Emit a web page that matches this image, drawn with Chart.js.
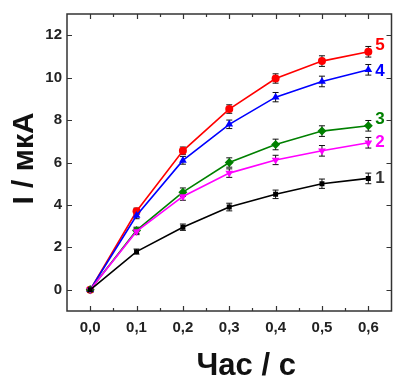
<!DOCTYPE html>
<html>
<head>
<meta charset="utf-8">
<script src="https://cdn.jsdelivr.net/npm/chart.js@4/dist/chart.umd.min.js"></script>
<style>
  html, body { margin: 0; padding: 0; background: #fff; }
  #wrap { width: 396px; height: 376px; }
</style>
</head>
<body>
<div id="wrap"><canvas id="chart"></canvas></div>
<script>
const times = [0, 0.1, 0.2, 0.3, 0.4, 0.5, 0.6];
const curve1 = [0, 1.8, 2.95, 3.9, 4.5, 5.0, 5.25];
const curve2 = [0, 2.75, 4.4, 5.5, 6.12, 6.55, 6.93];
const curve3 = [0, 2.8, 4.6, 6.0, 6.85, 7.48, 7.73];
const curve4 = [0, 3.5, 6.1, 7.8, 9.08, 9.82, 10.37];
const curve5 = [0, 3.7, 6.55, 8.52, 9.96, 10.78, 11.22];
const err1 = [0.1, 0.12, 0.15, 0.18, 0.2, 0.22, 0.25];
const err2 = [0.1, 0.15, 0.18, 0.2, 0.22, 0.25, 0.25];
const err3 = [0.1, 0.15, 0.2, 0.22, 0.25, 0.25, 0.25];
const err4 = [0.1, 0.15, 0.18, 0.2, 0.22, 0.25, 0.25];
const err5 = [0.1, 0.15, 0.18, 0.2, 0.22, 0.25, 0.25];
const curveNames = ["1", "2", "3", "4", "5"];
const xTicks = [0, 0.1, 0.2, 0.3, 0.4, 0.5, 0.6];
const yTicks = [0, 2, 4, 6, 8, 10, 12];
const xTitle = "Час / с";
const yTitle = "I / мкА";

const FONT = "'Liberation Sans', Arial, sans-serif";
const colors = ["#000000", "#ff00ff", "#008000", "#0000ff", "#ff0000"];
const labelColors = ["#333333", "#ff00ff", "#008000", "#0000ff", "#ff0000"];
const shapes = ["rect", "triangle", "rectRot", "triangle", "circle"];
const rotations = [0, 180, 0, 0, 0];
const radii = [3.5, 4.5, 4.5, 4.5, 4];
const labelShift = [0, 0, -6, 2, -6];

const series = [curve1, curve2, curve3, curve4, curve5];
const errors = [err1, err2, err3, err4, err5];

const datasets = series.map((vals, i) => ({
  label: curveNames[i],
  data: vals.map((v, j) => ({ x: times[j], y: v })),
  borderColor: colors[i],
  backgroundColor: colors[i],
  borderWidth: 1.6,
  pointStyle: shapes[i],
  rotation: rotations[i],
  pointRadius: radii[i],
  pointBorderWidth: 0,
  errors: errors[i]
}));

// error bars, inward frame ticks, titles and curve numbers
const extras = {
  id: "extras",
  beforeDatasetsDraw(chart) {
    const ctx = chart.ctx;
    const xs = chart.scales.x, ys = chart.scales.y;
    ctx.save();
    ctx.lineWidth = 1;
    chart.data.datasets.forEach((ds, i) => {
      ctx.strokeStyle = "#111";
      ds.data.forEach((p, j) => {
        const e = ds.errors[j];
        const px = xs.getPixelForValue(p.x);
        const top = ys.getPixelForValue(p.y + e);
        const bot = ys.getPixelForValue(p.y - e);
        ctx.beginPath();
        ctx.moveTo(px, top); ctx.lineTo(px, bot);
        ctx.moveTo(px - 3, top); ctx.lineTo(px + 3, top);
        ctx.moveTo(px - 3, bot); ctx.lineTo(px + 3, bot);
        ctx.stroke();
      });
    });
    ctx.restore();
  },
  afterDraw(chart) {
    const ctx = chart.ctx;
    const a = chart.chartArea;
    const xs = chart.scales.x, ys = chart.scales.y;
    ctx.save();
    ctx.strokeStyle = "#333";
    ctx.lineWidth = 1.5;
    ctx.strokeRect(a.left, a.top, a.right - a.left, a.bottom - a.top);
    ctx.lineWidth = 1.2;
    ctx.beginPath();
    for (let v = 0; v <= 0.6001; v += 0.05) {
      const px = Math.round(xs.getPixelForValue(v)) + 0.5;
      const len = Math.abs(v * 10 - Math.round(v * 10)) < 0.01 ? 5 : 3;
      ctx.moveTo(px, a.bottom); ctx.lineTo(px, a.bottom - len);
      ctx.moveTo(px, a.top); ctx.lineTo(px, a.top + len);
    }
    yTicks.forEach(v => {
      const py = Math.round(ys.getPixelForValue(v)) + 0.5;
      ctx.moveTo(a.left, py); ctx.lineTo(a.left + 5, py);
      ctx.moveTo(a.right, py); ctx.lineTo(a.right - 5, py);
    });
    ctx.stroke();

    // curve numbers
    ctx.font = "bold 17px " + FONT;
    ctx.textAlign = "left";
    ctx.textBaseline = "middle";
    chart.data.datasets.forEach((ds, i) => {
      const last = ds.data[ds.data.length - 1];
      const px = xs.getPixelForValue(last.x);
      const py = ys.getPixelForValue(last.y);
      ctx.fillStyle = labelColors[i];
      ctx.fillText(ds.label, px + 7, py + labelShift[i]);
    });

    // axis titles
    ctx.fillStyle = "#111";
    ctx.font = "bold 31px " + FONT;
    ctx.textAlign = "center";
    ctx.textBaseline = "alphabetic";
    ctx.fillText(xTitle, (a.left + a.right) / 2 + 17, 375);
    ctx.translate(33, (a.top + a.bottom) / 2 - 4);
    ctx.rotate(-Math.PI / 2);
    ctx.font = "bold 30px " + FONT;
    ctx.fillText(yTitle, 0, 0);
    ctx.restore();
  }
};

new Chart(document.getElementById("chart"), {
  type: "line",
  data: { datasets },
  plugins: [extras],
  options: {
    responsive: true,
    maintainAspectRatio: false,
    animation: false,
    layout: { padding: { top: 14, right: 2, left: 0, bottom: 0 } },
    plugins: { legend: { display: false }, tooltip: { enabled: false } },
    scales: {
      x: {
        type: "linear",
        min: -0.05,
        max: 0.65,
        afterFit(scale) { scale.height = 65; },
        afterBuildTicks(scale) { scale.ticks = xTicks.map(v => ({ value: v })); },
        grid: { display: false, drawTicks: false },
        border: { display: false },
        ticks: {
          padding: 8,
          color: "#222",
          font: { family: FONT, size: 15, weight: "bold" },
          callback: v => v.toFixed(1).replace(".", ",")
        }
      },
      y: {
        min: -1,
        max: 13,
        afterFit(scale) { scale.width = 67; },
        afterBuildTicks(scale) { scale.ticks = yTicks.map(v => ({ value: v })); },
        grid: { display: false, drawTicks: false },
        border: { display: false },
        ticks: {
          padding: 5,
          color: "#222",
          font: { family: FONT, size: 15, weight: "bold" }
        }
      }
    }
  }
});
</script>
</body>
</html>
